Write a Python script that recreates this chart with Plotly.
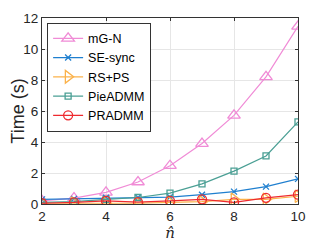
import plotly.graph_objects as go

n_hat = [2, 3, 4, 5, 6, 7, 8, 9, 10]
mg_n = [0.2, 0.38, 0.75, 1.42, 2.47, 3.9, 5.72, 8.2, 11.46]
se_sync = [0.3, 0.33, 0.4, 0.42, 0.45, 0.6, 0.8, 1.12, 1.62]
rs_ps = [0.05, 0.05, 0.05, 0.05, 0.1, 0.15, 0.3, 0.3, 0.5]
pieadmm = [0.1, 0.15, 0.3, 0.42, 0.7, 1.3, 2.12, 3.1, 5.3]
pradmm = [0.05, 0.1, 0.2, 0.12, 0.2, 0.3, 0.1, 0.4, 0.6]

series = [
    ("mG-N", mg_n, "#F08BD6", "triangle-up-open", 11),
    ("SE-sync", se_sync, "#1F7FCF", "x-thin-open", 6),
    ("RS+PS", rs_ps, "#FBB24A", "triangle-right-open", 11),
    ("PieADMM", pieadmm, "#4A9F94", "square-open", 6),
    ("PRADMM", pradmm, "#EE2A2F", "circle-open", 9),
]

fig = go.Figure()
for name, ys, color, sym, size in series:
    fig.add_trace(go.Scatter(
        x=n_hat, y=ys, name=name, mode="lines+markers",
        line=dict(color=color, width=1.2),
        marker=dict(symbol=sym, size=size, color=color, line=dict(color=color, width=1.3)),
    ))

# page body adds an 8px margin; compensate by a smaller figure
fig.update_layout(
    width=321, height=239,
    margin=dict(l=34, r=31, t=10, b=43),
    paper_bgcolor="white", plot_bgcolor="white",
    font=dict(family="Liberation Sans, Arial, sans-serif", color="#262626"),
    showlegend=True,
    legend=dict(x=0.02, y=0.975, xanchor="left", yanchor="top",
                bgcolor="white", bordercolor="#333333", borderwidth=1,
                font=dict(size=12.5, color="#000000"),
                tracegroupgap=0, itemwidth=30),
    xaxis=dict(range=[2, 10], tickvals=[2, 4, 6, 8, 10], automargin=False,
               showgrid=True, gridcolor="#E6E6E6", gridwidth=1,
               ticks="inside", ticklen=3, tickcolor="#333333",
               showline=True, linecolor="#333333", linewidth=1, mirror="ticks",
               zeroline=False, tickfont=dict(size=13.5),
               title=dict(text="<i>n̂</i>", font=dict(size=15, family="DejaVu Serif, serif"), standoff=4)),
    yaxis=dict(range=[0, 12], tickvals=[0, 2, 4, 6, 8, 10, 12], automargin=False,
               showgrid=True, gridcolor="#E6E6E6", gridwidth=1,
               ticks="inside", ticklen=3, tickcolor="#333333",
               showline=True, linecolor="#333333", linewidth=1, mirror="ticks",
               zeroline=False, tickfont=dict(size=13.5),
               title=dict(text="Time (s)", font=dict(size=18), standoff=6)),
)

fig.write_html("out.html")
